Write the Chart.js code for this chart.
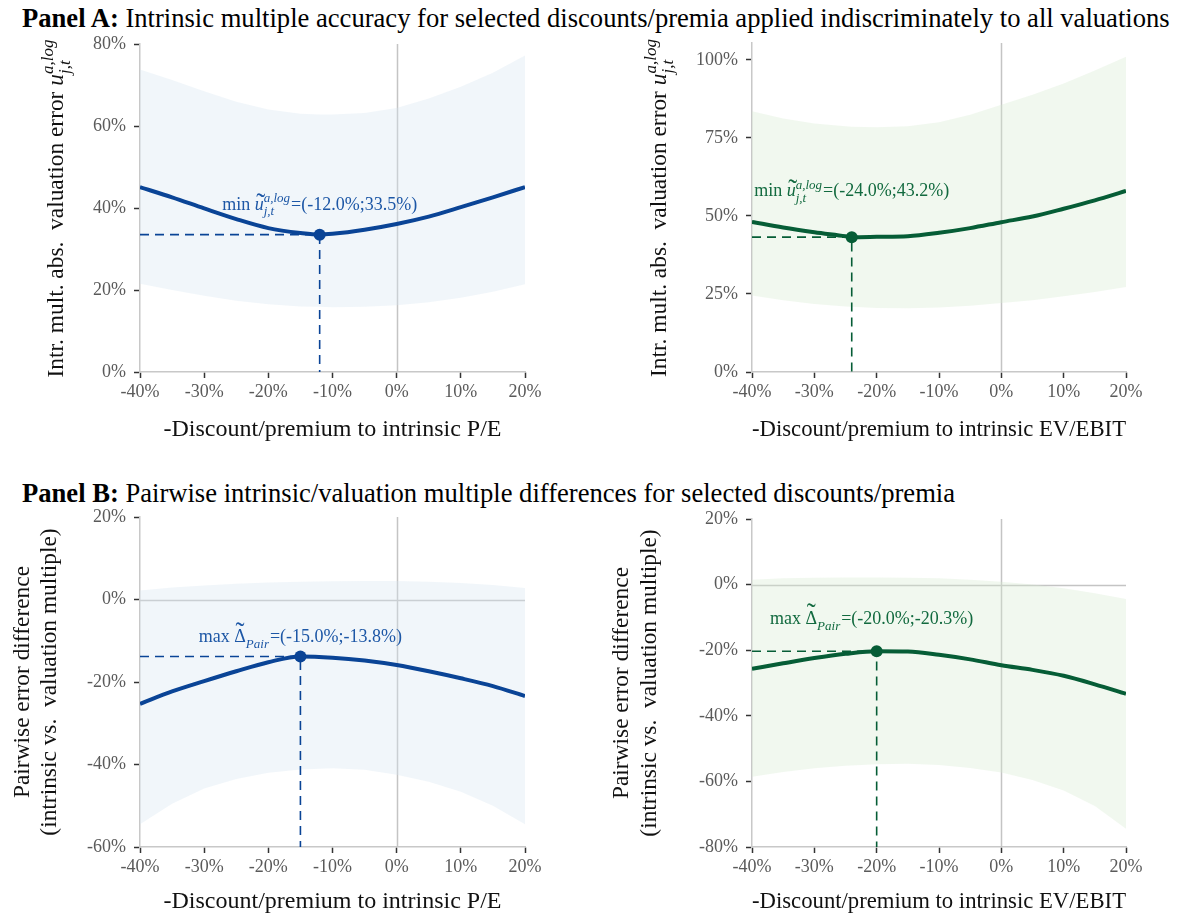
<!DOCTYPE html>
<html>
<head>
<meta charset="utf-8">
<script src="https://cdn.jsdelivr.net/npm/chart.js@4.4.1/dist/chart.umd.min.js"></script>
<style>
  body { margin: 0; background: #fff; width: 1180px; height: 918px; position: relative; overflow: hidden;
         font-family: "Liberation Serif", "Times New Roman", serif; }
  .ttl { position: absolute; left: 22px; font-size: 26.6px; line-height: 30px; color: #000; white-space: nowrap; }
  canvas { position: absolute; }
</style>
</head>
<body>
<div class="ttl" style="top:3px"><b>Panel A:</b> Intrinsic multiple accuracy for selected discounts/premia applied indiscriminately to all valuations</div>
<div class="ttl" style="top:478px"><b>Panel B:</b> Pairwise intrinsic/valuation multiple differences for selected discounts/premia</div>
<canvas id="cA1" width="560" height="420" style="left:0;top:30px"></canvas>
<canvas id="cA2" width="560" height="420" style="left:600px;top:30px"></canvas>
<canvas id="cB1" width="560" height="428" style="left:0;top:490px"></canvas>
<canvas id="cB2" width="560" height="428" style="left:600px;top:490px"></canvas>
<script>
// ---- discount/premium grid and tick labels ----
const xTicks = [-40, -30, -20, -10, 0, 10, 20];
const yTicksA1 = [0, 20, 40, 60, 80];
const yTicksA2 = [0, 25, 50, 75, 100];
const yTicksB1 = [-60, -40, -20, 0, 20];
const yTicksB2 = [-80, -60, -40, -20, 0, 20];

// ---- Panel A, P/E: intrinsic multiple abs. valuation error (%) ----
const peAccX     = [-40, -35, -30, -25, -20, -15, -12, -10, -5, 0, 5, 10, 15, 20];
const peAccMid   = [45.1, 42.6, 39.9, 37.3, 35.1, 33.9, 33.5, 33.7, 34.7, 36.1, 37.9, 40.2, 42.6, 45.1];
const peAccHigh  = [73.8, 71.2, 68.5, 65.9, 64.0, 63.0, 62.8, 62.8, 63.2, 64.4, 66.7, 69.6, 73.0, 77.2];
const peAccLow   = [21.5, 20.0, 18.6, 17.4, 16.5, 16.0, 15.9, 15.8, 15.9, 16.3, 17.0, 18.1, 19.6, 21.4];
const peAccOpt   = [-12.0, 33.5];

// ---- Panel A, EV/EBIT ----
const evAccX     = [-40, -35, -30, -25, -24, -20, -15, -10, -5, 0, 5, 10, 15, 20];
const evAccMid   = [48.1, 46.3, 44.8, 43.5, 43.2, 43.3, 43.5, 44.6, 46.1, 48.0, 49.8, 52.3, 55.0, 58.0];
const evAccHigh  = [83.5, 81.2, 79.6, 78.7, 78.6, 78.4, 78.7, 80.0, 82.4, 85.6, 88.8, 92.4, 96.6, 101.0];
const evAccLow   = [24.5, 23.0, 21.8, 21.0, 20.9, 20.5, 20.4, 20.7, 21.2, 22.1, 23.0, 24.3, 25.6, 27.2];
const evAccOpt   = [-24.0, 43.2];

// ---- Panel B, P/E: pairwise error difference (%) ----
const pePairX    = [-40, -35, -30, -25, -20, -15, -10, -5, 0, 5, 10, 15, 20];
const pePairMid  = [-25.3, -22.3, -19.8, -17.4, -15.2, -13.8, -14.1, -14.8, -15.9, -17.4, -19.1, -21.0, -23.4];
const pePairHigh = [2.2, 2.9, 3.4, 3.8, 4.1, 4.3, 4.4, 4.5, 4.5, 4.3, 4.0, 3.5, 2.8];
const pePairLow  = [-54.5, -49.5, -45.8, -43.5, -42.0, -41.2, -40.9, -41.3, -42.5, -44.2, -46.6, -50.0, -54.5];
const pePairOpt  = [-15.0, -13.8];

// ---- Panel B, EV/EBIT ----
const evPairX    = [-40, -35, -30, -25, -20, -15, -10, -5, 0, 5, 10, 15, 20];
const evPairMid  = [-25.7, -24.0, -22.4, -21.1, -20.3, -20.4, -21.4, -22.8, -24.6, -26.0, -27.8, -30.4, -33.3];
const evPairHigh = [1.5, 1.9, 2.1, 2.2, 2.2, 2.1, 1.9, 1.5, 0.9, 0.0, -1.1, -2.6, -4.4];
const evPairLow  = [-58.6, -57.1, -56.0, -55.2, -54.8, -54.6, -55.0, -55.9, -57.3, -59.6, -62.8, -67.5, -74.4];
const evPairOpt  = [-20.0, -20.3];

const FONT = '"Liberation Serif", "Times New Roman", serif';
const BLUE = { line: '#0a4496', text: '#1d57a6', band: 'rgba(214,228,242,0.35)' };
const GREEN = { line: '#065d36', text: '#126a3f', band: 'rgba(216,236,210,0.35)' };

const pts = (xs, ys) => xs.map((x, i) => ({ x, y: ys[i] }));
const pct = v => v.toFixed(1) + '%';

// Draws a run of styled pieces centred on cx; pieces may carry super/subscripts or a wide tilde accent.
function richText(ctx, parts, cx, baseY, size, color) {
  const f = (it, s) => (it ? 'italic ' : '') + s + 'px ' + FONT;
  const ss = Math.round(size * 0.72);
  const widths = parts.map(p => {
    if (p.sup !== undefined || p.sub !== undefined) {
      ctx.font = f(true, ss);
      return Math.max(ctx.measureText(p.sup || '').width, ctx.measureText(p.sub || '').width) + 1;
    }
    ctx.font = f(p.it, p.size || size);
    return ctx.measureText(p.t).width;
  });
  let x = cx - widths.reduce((a, b) => a + b, 0) / 2;
  ctx.fillStyle = color;
  ctx.textBaseline = 'alphabetic';
  ctx.textAlign = 'left';
  parts.forEach((p, i) => {
    if (p.sup !== undefined || p.sub !== undefined) {
      ctx.font = f(true, ss);
      if (p.sup) ctx.fillText(p.sup, x, baseY - size * 0.42);
      if (p.sub) ctx.fillText(p.sub, x, baseY + size * 0.3);
    } else {
      ctx.font = f(p.it, p.size || size);
      ctx.fillText(p.t, x, baseY);
      if (p.tilde !== undefined) {
        ctx.font = f(false, Math.round(size * 1.5));
        ctx.textAlign = 'center';
        ctx.fillText('\u02DC', x + widths[i] / 2 + (p.it ? 1.5 : 0), baseY - size * p.tilde);
        ctx.textAlign = 'left';
      }
    }
    x += widths[i];
  });
}

// Grey reference lines at 0% discount (and 0% difference where visible)
const zeroLines = {
  id: 'zeroLines',
  beforeDatasetsDraw(chart, args, opts) {
    const { ctx, chartArea: a, scales: { x, y } } = chart;
    ctx.save();
    ctx.strokeStyle = '#c4c4c4';
    ctx.lineWidth = 1.5;
    ctx.beginPath();
    const px = Math.round(x.getPixelForValue(0)) + 0.5;
    ctx.moveTo(px, a.top); ctx.lineTo(px, a.bottom);
    if (opts.horizontal) {
      const py = Math.round(y.getPixelForValue(0)) + 0.5;
      ctx.moveTo(a.left, py); ctx.lineTo(a.right, py);
    }
    ctx.stroke();
    ctx.restore();
  }
};

// Optimum label above the marked point, plus the rotated y-axis title
const labels = {
  id: 'labels',
  afterDraw(chart, args, o) {
    const { ctx, chartArea: a, scales: { x, y } } = chart;
    ctx.save();
    const px = x.getPixelForValue(o.opt[0]);
    const py = y.getPixelForValue(o.opt[1]);
    richText(ctx, o.note, px + o.noteDx, py + o.noteDy, 18, o.color);
    const cy = (a.top + a.bottom) / 2;
    o.yTitle.forEach((line, i) => {
      ctx.save();
      ctx.translate(o.yTitleX[i], cy);
      ctx.rotate(-Math.PI / 2);
      richText(ctx, line, 0, 0, 23.4, '#111');
      ctx.restore();
    });
    ctx.restore();
  }
};

function makePanel(id, cfg) {
  const c = cfg.color;
  const o = cfg.opt;
  const yMin = cfg.yMin;
  new Chart(document.getElementById(id), {
    type: 'line',
    data: {
      datasets: [
        { data: pts(cfg.xs, cfg.high), borderWidth: 0, pointRadius: 0, fill: '+1', backgroundColor: c.band, order: 4 },
        { data: pts(cfg.xs, cfg.low), borderWidth: 0, pointRadius: 0, fill: false, order: 5 },
        { data: [{ x: xTicks[0], y: o[1] }, { x: o[0], y: o[1] }, { x: o[0], y: yMin }],
          borderColor: c.line, borderWidth: 1.6, borderDash: [9, 6], pointRadius: 0, fill: false, tension: 0, order: 2 },
        { data: pts(cfg.xs, cfg.mid), borderColor: c.line, borderWidth: 4, pointRadius: 0, fill: false,
          cubicInterpolationMode: 'monotone', order: 1 },
        { data: [{ x: o[0], y: o[1] }], showLine: false, pointRadius: 6, pointBackgroundColor: c.line,
          pointBorderWidth: 0, order: 0 }
      ]
    },
    options: {
      responsive: false,
      animation: false,
      events: [],
      layout: { padding: cfg.pad },
      plugins: {
        legend: { display: false },
        tooltip: { enabled: false },
        zeroLines: { horizontal: cfg.hLine },
        labels: { opt: o, note: cfg.note, noteDx: cfg.noteDx || 0, noteDy: cfg.noteDy, color: c.text,
                  yTitle: cfg.yTitle, yTitleX: cfg.yTitleX }
      },
      scales: {
        x: {
          type: 'linear', min: xTicks[0], max: xTicks[xTicks.length - 1],
          afterBuildTicks: s => { s.ticks = xTicks.map(v => ({ value: v })); },
          afterFit: s => { s.height = cfg.xH; },
          ticks: { callback: v => v + '%', color: '#5a5a5a', font: { family: FONT, size: 18 }, padding: 3, maxRotation: 0, autoSkip: false },
          grid: { drawOnChartArea: false, drawTicks: true, tickLength: 6, tickColor: '#333', tickWidth: 1.5 },
          border: { color: '#c8c8c8', width: 1.5 },
          title: { display: true, text: cfg.xTitle, color: '#111', font: { family: FONT, size: 24 }, padding: { top: 0, bottom: cfg.xTitlePad } }
        },
        y: {
          type: 'linear', min: yMin, max: cfg.yMax,
          afterBuildTicks: s => { s.ticks = cfg.yTicks.map(v => ({ value: v })); },
          afterFit: s => { s.width = cfg.yW; s.paddingTop = 0; s.paddingBottom = 0; },
          ticks: { callback: v => v + '%', color: '#5a5a5a', font: { family: FONT, size: 18 }, padding: 8 },
          grid: { drawOnChartArea: false, drawTicks: true, tickLength: 6, tickColor: '#333', tickWidth: 1.5 },
          border: { color: '#c8c8c8', width: 1.5 }
        }
      }
    },
    plugins: [zeroLines, labels]
  });
}

const uTitle = [
  { t: 'Intr. mult. abs.  valuation error ' },
  { t: 'u', it: true },
  { sup: 'a,log', sub: 'j,t' }
];
const pairTitle = [[{ t: 'Pairwise error difference' }], [{ t: '(intrinsic vs.  valuation multiple)' }]];
const minNote = opt => [
  { t: 'min ' }, { t: 'u', it: true, tilde: -0.12 }, { sup: 'a,log', sub: 'j,t' },
  { t: '=(' + pct(opt[0]) + ';' + pct(opt[1]) + ')' }
];
const maxNote = opt => [
  { t: 'max ' }, { t: '\u0394', tilde: 0.1 }, { sub: 'Pair' },
  { t: '=(' + pct(opt[0]) + ';' + pct(opt[1]) + ')' }
];

makePanel('cA1', {
  color: BLUE, xs: peAccX, mid: peAccMid, high: peAccHigh, low: peAccLow, opt: peAccOpt,
  yMin: 0, yMax: 80, yTicks: yTicksA1, hLine: false,
  pad: { left: 0, top: 14, right: 35, bottom: 0 }, yW: 140, xH: 78, xTitlePad: 6,
  xTitle: '-Discount/premium to intrinsic P/E',
  yTitle: [uTitle], yTitleX: [63],
  note: minNote(peAccOpt), noteDy: -25
});
makePanel('cA2', {
  color: GREEN, xs: evAccX, mid: evAccMid, high: evAccHigh, low: evAccLow, opt: evAccOpt,
  yMin: 0, yMax: 105.4, yTicks: yTicksA2, hLine: false,
  pad: { left: 0, top: 13, right: 34, bottom: 0 }, yW: 152, xH: 78, xTitlePad: 6,
  xTitle: '-Discount/premium to intrinsic EV/EBIT',
  yTitle: [uTitle], yTitleX: [66],
  note: minNote(evAccOpt), noteDy: -41
});
makePanel('cB1', {
  color: BLUE, xs: pePairX, mid: pePairMid, high: pePairHigh, low: pePairLow, opt: pePairOpt,
  yMin: -60, yMax: 20, yTicks: yTicksB1, hLine: true,
  pad: { left: 0, top: 27, right: 35, bottom: 0 }, yW: 140, xH: 71, xTitlePad: 2,
  xTitle: '-Discount/premium to intrinsic P/E',
  yTitle: pairTitle, yTitleX: [29, 56],
  note: maxNote(pePairOpt), noteDy: -14
});
makePanel('cB2', {
  color: GREEN, xs: evPairX, mid: evPairMid, high: evPairHigh, low: evPairLow, opt: evPairOpt,
  yMin: -80, yMax: 20, yTicks: yTicksB2, hLine: true,
  pad: { left: 0, top: 29, right: 34, bottom: 0 }, yW: 152, xH: 71, xTitlePad: 2,
  xTitle: '-Discount/premium to intrinsic EV/EBIT',
  yTitle: pairTitle, yTitleX: [28, 56],
  note: maxNote(evPairOpt), noteDx: -5, noteDy: -27
});
</script>
</body>
</html>
